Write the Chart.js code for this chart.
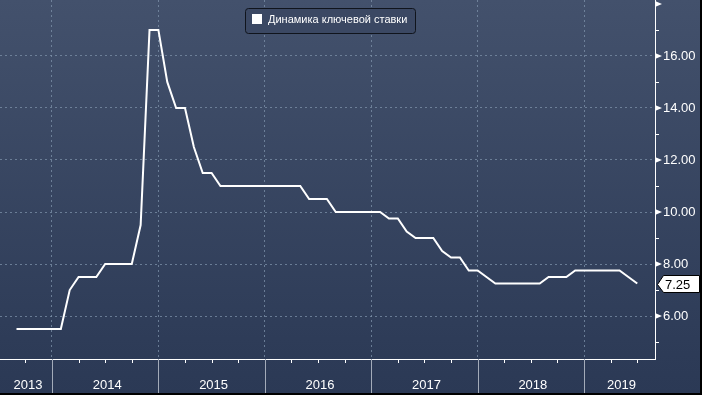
<!DOCTYPE html>
<html>
<head>
<meta charset="utf-8">
<script src="https://cdn.jsdelivr.net/npm/chart.js@4.4.0/dist/chart.umd.min.js"></script>
<style>
  html, body { margin: 0; padding: 0; background: #2c3a56; }
  #wrap { width: 702px; height: 395px; position: relative; }
</style>
</head>
<body>
<div id="wrap"><canvas id="canvas-grafico-stavka"></canvas></div>
<script>
// месяцы (мм.гггг)
const meses = [
  "09.2013", "10.2013", "11.2013", "12.2013",
  "01.2014", "02.2014", "03.2014", "04.2014", "05.2014", "06.2014", "07.2014", "08.2014", "09.2014", "10.2014", "11.2014", "12.2014",
  "01.2015", "02.2015", "03.2015", "04.2015", "05.2015", "06.2015", "07.2015", "08.2015", "09.2015", "10.2015", "11.2015", "12.2015",
  "01.2016", "02.2016", "03.2016", "04.2016", "05.2016", "06.2016", "07.2016", "08.2016", "09.2016", "10.2016", "11.2016", "12.2016",
  "01.2017", "02.2017", "03.2017", "04.2017", "05.2017", "06.2017", "07.2017", "08.2017", "09.2017", "10.2017", "11.2017", "12.2017",
  "01.2018", "02.2018", "03.2018", "04.2018", "05.2018", "06.2018", "07.2018", "08.2018", "09.2018", "10.2018", "11.2018", "12.2018",
  "01.2019", "02.2019", "03.2019", "04.2019", "05.2019", "06.2019", "07.2019"
];

// ключевая ставка, %
const stavka = [
  5.5, 5.5, 5.5, 5.5,
  5.5, 5.5, 7.0, 7.5, 7.5, 7.5, 8.0, 8.0, 8.0, 8.0, 9.5, 17.0,
  17.0, 15.0, 14.0, 14.0, 12.5, 11.5, 11.5, 11.0, 11.0, 11.0, 11.0, 11.0,
  11.0, 11.0, 11.0, 11.0, 11.0, 10.5, 10.5, 10.5, 10.0, 10.0, 10.0, 10.0,
  10.0, 10.0, 9.75, 9.75, 9.25, 9.0, 9.0, 9.0, 8.5, 8.25, 8.25, 7.75,
  7.75, 7.5, 7.25, 7.25, 7.25, 7.25, 7.25, 7.25, 7.5, 7.5, 7.5, 7.75,
  7.75, 7.75, 7.75, 7.75, 7.75, 7.5, 7.25
];

const anos = ["2013", "2014", "2015", "2016", "2017", "2018", "2019"];
const legendaTexto = "Динамика ключевой ставки";

// месяц от января 2013 = 0
function indiceMes(s) {
  const [m, a] = s.split(".");
  return (parseInt(a) - 2013) * 12 + parseInt(m) - 1;
}

const pontos = meses.map((m, i) => ({ x: indiceMes(m), y: stavka[i] }));

const FONTE = "Liberation Sans";

const fundo = {
  id: "fundo",
  beforeDraw(chart) {
    const ctx = chart.ctx;
    const g = ctx.createLinearGradient(0, 0, 0, chart.height);
    g.addColorStop(0, "#43516c");
    g.addColorStop(0.9, "#2d3b57");
    g.addColorStop(1, "#2b3955");
    ctx.save();
    ctx.fillStyle = g;
    ctx.fillRect(0, 0, chart.width, chart.height);
    ctx.restore();
  },
  afterDraw(chart) {
    const ctx = chart.ctx;
    const area = chart.chartArea;
    const xs = chart.scales.x;
    const ys = chart.scales.y;
    ctx.save();

    // eixo y: triangulos e riscos menores
    ctx.fillStyle = "#ffffff";
    ctx.strokeStyle = "#ffffff";
    ctx.lineWidth = 1;
    for (let v = Math.ceil(ys.min); v <= Math.floor(ys.max); v++) {
      const y = Math.round(ys.getPixelForValue(v));
      if (v % 2 === 0) {
        ctx.beginPath();
        ctx.moveTo(area.right, y - 3);
        ctx.lineTo(area.right + 7, y);
        ctx.lineTo(area.right, y + 3);
        ctx.closePath();
        ctx.fill();
      } else {
        ctx.beginPath();
        ctx.moveTo(area.right, y + 0.5);
        ctx.lineTo(area.right + 4, y + 0.5);
        ctx.stroke();
      }
    }

    // eixo x: riscos trimestrais e separadores de ano
    for (let m = Math.ceil(xs.min / 3) * 3; m <= xs.max; m += 3) {
      const x = Math.round(xs.getPixelForValue(m)) + 0.5;
      ctx.beginPath();
      if (m % 12 === 0) {
        ctx.strokeStyle = "#a3abb9";
        ctx.moveTo(x, area.bottom);
        ctx.lineTo(x, chart.height);
      } else {
        ctx.strokeStyle = "#ffffff";
        ctx.moveTo(x, area.bottom);
        ctx.lineTo(x, area.bottom + 4);
      }
      ctx.stroke();
    }

    // rotulos dos anos
    ctx.fillStyle = "#ffffff";
    ctx.font = "13px '" + FONTE + "'";
    ctx.textAlign = "center";
    ctx.textBaseline = "middle";
    anos.forEach((a, i) => {
      const ini = Math.max(xs.min, i * 12);
      const fim = Math.min(xs.max, i * 12 + 12);
      const x = (xs.getPixelForValue(ini) + xs.getPixelForValue(fim)) / 2;
      ctx.fillText(a, x + 2, area.bottom + 26);
    });

    // legenda
    const lx = 245, ly = 8, lw = 170, lh = 25;
    ctx.beginPath();
    ctx.roundRect(lx + 0.5, ly + 0.5, lw, lh, 3);
    ctx.fillStyle = "#3b4863";
    ctx.fill();
    ctx.strokeStyle = "#10141c";
    ctx.lineWidth = 1;
    ctx.stroke();
    ctx.fillStyle = "#ffffff";
    ctx.fillRect(lx + 7, ly + 6, 10, 10);
    ctx.font = "11px '" + FONTE + "'";
    ctx.textAlign = "left";
    ctx.textBaseline = "middle";
    ctx.fillText(chart.data.datasets[0].label, lx + 23, ly + 12);

    // ultimo valor
    const ult = stavka[stavka.length - 1];
    const yv = Math.round(ys.getPixelForValue(ult));
    const bx = area.right + 2;
    ctx.beginPath();
    ctx.moveTo(bx + 0.5, yv + 0.5);
    ctx.lineTo(bx + 6.5, yv - 8.5);
    ctx.lineTo(chart.width - 2.5, yv - 8.5);
    ctx.lineTo(chart.width - 2.5, yv + 8.5);
    ctx.lineTo(bx + 6.5, yv + 8.5);
    ctx.closePath();
    ctx.fillStyle = "#ffffff";
    ctx.fill();
    ctx.strokeStyle = "#000000";
    ctx.stroke();
    ctx.fillStyle = "#000000";
    ctx.font = "13px '" + FONTE + "'";
    ctx.fillText(ult.toFixed(2), bx + 8, yv + 1);

    // borda preta
    ctx.fillStyle = "#000000";
    ctx.fillRect(0, chart.height - 2, chart.width, 2);
    ctx.fillRect(chart.width - 2, 0, 2, chart.height);
    ctx.restore();
  }
};

new Chart(document.getElementById("canvas-grafico-stavka"), {
  type: "line",
  plugins: [fundo],
  data: {
    datasets: [
      {
        label: legendaTexto,
        data: pontos,
        borderColor: "#ffffff",
        borderWidth: 2,
        pointRadius: 0,
        tension: 0,
        fill: false,
      },
    ],
  },
  options: {
    responsive: true,
    maintainAspectRatio: false,
    animation: false,
    layout: { padding: 0 },
    plugins: {
      legend: { display: false },
      tooltip: { enabled: false },
    },
    scales: {
      x: {
        type: "linear",
        min: 6.14,
        max: 80,
        ticks: { display: false, stepSize: 12 },
        grid: {
          drawTicks: false,
          color: (c) => (c.tick && c.tick.value % 12 === 0 ? "rgba(125,145,170,0.75)" : "rgba(0,0,0,0)"),
        },
        border: { display: true, color: "#ffffff", width: 1, dash: [2, 3] },
        afterFit(scale) {
          scale.height = 36;
          scale.paddingLeft = 0;
          scale.paddingRight = 0;
        },
      },
      y: {
        type: "linear",
        position: "right",
        min: 4.35,
        max: 18.15,
        ticks: {
          stepSize: 1,
          color: "#ffffff",
          padding: 8,
          font: { family: FONTE, size: 13 },
          callback: (v) => (Number.isInteger(v) && v % 2 === 0 && v >= 6 && v <= 16 ? v.toFixed(2) : ""),
        },
        grid: {
          drawTicks: false,
          color: (c) => (c.tick && Number.isInteger(c.tick.value) && c.tick.value % 2 === 0 ? "rgba(125,145,170,0.75)" : "rgba(0,0,0,0)"),
        },
        border: { display: true, color: "#ffffff", width: 1, dash: [2, 3] },
        afterFit(scale) {
          scale.width = 47;
          scale.paddingTop = 0;
          scale.paddingBottom = 0;
        },
      },
    },
  },
});
</script>
</body>
</html>
